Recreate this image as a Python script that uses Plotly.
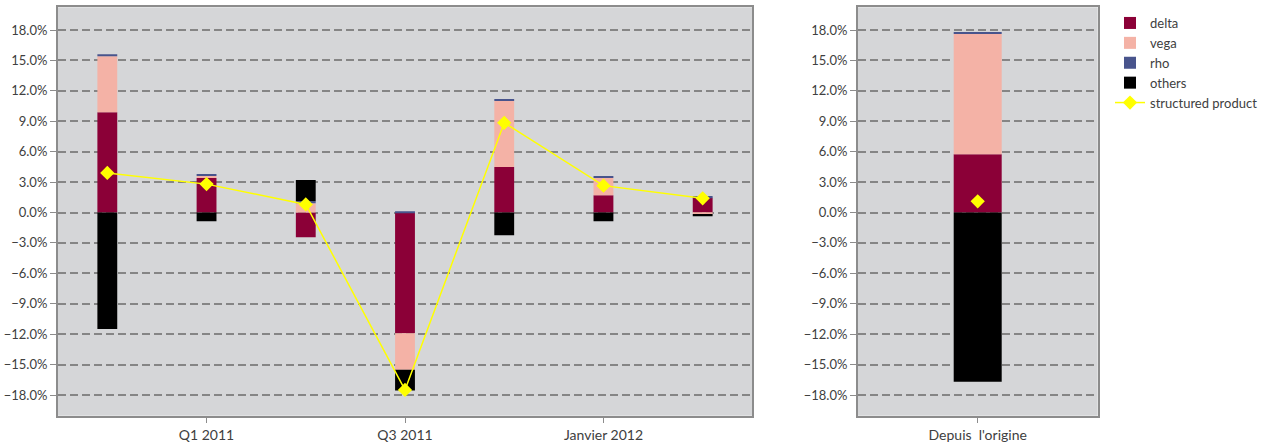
import plotly.graph_objects as go

# ---- data (percent) ----
categories = ["Q4 2010", "Q1 2011", "Q2 2011", "Q3 2011", "Q4 2011", "Janvier 2012", "Février 2012"]
shown_ticks = ["Q1 2011", "Q3 2011", "Janvier 2012"]
delta = [9.9, 3.4, -2.45, -11.9, 4.5, 1.7, 1.45]
vega = [5.5, 0.2, 0.92, -3.6, 6.5, 1.7, -0.14]
rho = [0.2, 0.2, 0.2, 0.08, 0.2, 0.2, 0.17]
others = [-11.5, -0.85, 2.08, -2.05, -2.25, -0.85, -0.22]
structured = [3.9, 2.8, 0.8, -17.5, 8.85, 2.65, 1.4]

total_cat = ["Depuis l'origine"]
total_delta = [5.75]
total_vega = [11.85]
total_rho = [0.2]
total_others = [-16.7]
total_structured = [1.1]

colors = {"delta": "#8B0037", "vega": "#F4B2A6", "rho": "#48548C", "others": "#000000"}
FONT = "Lato"
TXT = "#404040"

fig = go.Figure()

series = [("delta", delta, total_delta), ("vega", vega, total_vega),
          ("rho", rho, total_rho), ("others", others, total_others)]
for name, vals, tvals in series:
    fig.add_trace(go.Bar(x=categories, y=vals, name=name, marker_color=colors[name],
                         marker_line_width=0, legendgroup=name, xaxis="x", yaxis="y"))
for name, vals, tvals in series:
    fig.add_trace(go.Bar(x=total_cat, y=tvals, name=name, marker_color=colors[name],
                         marker_line_width=0, legendgroup=name, showlegend=False,
                         xaxis="x2", yaxis="y2"))

fig.add_trace(go.Scatter(x=categories, y=structured, name="structured product",
                         mode="lines+markers", line=dict(color="#FFFF00", width=1.5),
                         marker=dict(symbol="diamond", size=11, color="#FFFF00"),
                         legendgroup="sp", xaxis="x", yaxis="y"))
fig.add_trace(go.Scatter(x=total_cat, y=total_structured, name="structured product",
                         mode="markers", marker=dict(symbol="diamond", size=11, color="#FFFF00"),
                         legendgroup="sp", showlegend=False, xaxis="x2", yaxis="y2"))

W, H = 1270, 446
ydom = [1 - 415.7 / H, 1 - 7.3 / H]
yr = [-20.04, 20.24]

common_y = dict(range=yr, dtick=3, tick0=0, ticksuffix="%", tickformat=".1f",
                showgrid=True, gridcolor="#858585", gridwidth=1.5, griddash="8px,4px",
                zeroline=False, showline=True, linecolor="#8c8c8c", linewidth=1.5,
                mirror=True, ticks="outside", ticklen=6, tickcolor="#8c8c8c",
                tickfont=dict(family=FONT, size=13, color=TXT), domain=ydom)
common_x = dict(showline=True, linecolor="#8c8c8c", linewidth=1.5, mirror=True,
                ticks="outside", ticklen=6, tickcolor="#8c8c8c", showgrid=False,
                tickfont=dict(family=FONT, size=14, color=TXT))

fig.update_layout(
    width=W, height=H,
    margin=dict(l=0, r=0, t=0, b=0),
    paper_bgcolor="white", plot_bgcolor="#D5D6D8",
    barmode="relative", bargap=0.8,
    font=dict(family=FONT, size=13, color=TXT),
    xaxis=dict(domain=[57.7 / W, 752.3 / W], type="category", range=[-0.5, 6.5],
               tickmode="array", tickvals=shown_ticks, ticktext=shown_ticks,
               anchor="y", **common_x),
    yaxis=dict(anchor="x", **common_y),
    xaxis2=dict(domain=[857.7 / W, 1097.7 / W], type="category", range=[-0.5, 0.5],
                tickmode="array", tickvals=total_cat, ticktext=["Depuis\u00a0\u00a0l'origine"],
                anchor="y2", **common_x),
    yaxis2=dict(anchor="x2", **common_y),
    legend=dict(x=1110 / W, y=1 - 8 / H, xanchor="left", yanchor="top",
                bgcolor="rgba(0,0,0,0)", font=dict(family=FONT, size=13, color=TXT),
                tracegroupgap=0, traceorder="normal"),
    showlegend=True,
)

fig.write_html("out.html", config={"displayModeBar": False},
               post_script="document.body.style.margin='0';document.body.style.overflow='hidden';")
